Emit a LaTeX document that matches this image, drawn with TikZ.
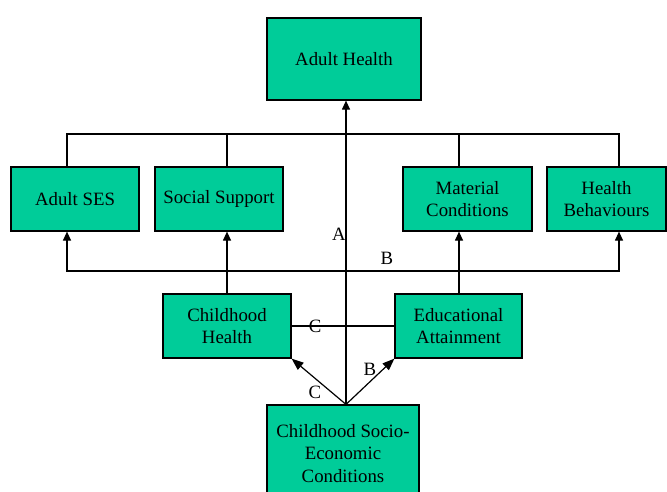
\documentclass[tikz,border=0pt]{standalone}
\usepackage{fontspec}
\setmainfont{Liberation Serif}
\usetikzlibrary{arrows.meta}
\definecolor{boxgreen}{RGB}{0,204,153}

\begin{document}
\begin{tikzpicture}[x=1pt,y=-1pt, >={Triangle[length=9pt,width=8pt]},
  factor/.style = {draw, fill=boxgreen, line width=1.2pt, align=center,
    inner sep=0pt, minimum height=64pt, minimum width=128pt,
    font=\fontsize{18.8}{22.5}\selectfont},
  link/.style = {line width=1.2pt},
  effect/.style = {link, ->},
  branch/.style = {link, -{Triangle[length=12pt,width=9pt]}},
  path label/.style = {inner sep=0pt, font=\fontsize{18.8}{20}\selectfont}]
  \useasboundingbox (0,0) rectangle (667,491);
  % outcome
  \node[factor, minimum width=154pt, minimum height=82pt] (adulthealth) at (344,59) {Adult Health};
  % adult pathways
  \node[factor] (adultses) at (75,199) {Adult SES};
  \node[factor] (support) at (219,199) {Social Support};
  \node[factor, minimum width=129pt] (material) at (467.5,199) {Material\\Conditions};
  \node[factor, minimum width=119pt] (behaviours) at (606.5,199) {Health\\Behaviours};
  % childhood
  \node[factor] (childhealth) at (227,326) {Childhood\\Health};
  \node[factor, minimum width=127pt] (education) at (458.5,326) {Educational\\Attainment};
  \node[factor, minimum width=152pt, minimum height=97pt] (origin) at (343,453.5)
    {Childhood Socio-\\Economic\\Conditions};
  % bus positions
  \coordinate (sesx) at (67,0);
  \coordinate (supx) at (227,0);
  \coordinate (matx) at (459,0);
  \coordinate (behx) at (619,0);
  \coordinate (ax) at (346,0);
  \coordinate (topbus) at (0,134);
  \coordinate (lowbus) at (0,271);
  % upper bus
  \draw[link] (adultses.north -| sesx) |- (topbus -| behx) -- (behaviours.north -| behx);
  \draw[link] (support.north -| supx) -- (topbus -| supx);
  \draw[link] (material.north -| matx) -- (topbus -| matx);
  % lower bus
  \draw[link, <->] (adultses.south -| sesx) |- (lowbus -| behx) -- (behaviours.south -| behx);
  \node[path label] (labelb) at (387,258) {B};
  \draw[effect] (childhealth.north) -- (support.south -| childhealth.north);
  \draw[effect] (education.north -| matx) -- (material.south -| matx);
  % direct path
  \draw[effect] (origin.north -| ax) -- (adulthealth.south -| ax);
  \node[path label] (labela) at (339,234) {A};
  \draw[link] (childhealth.east) -- (education.west)
    node[path label, pos=0.23] {C};
  \draw[branch] (origin.north -| ax) -- (childhealth.south east);
  \node[path label] (labelc) at (315,392) {C};
  \draw[branch] (origin.north -| ax) -- (education.south west);
  \node[path label] (labelbb) at (370,369) {B};
\end{tikzpicture}
\end{document}
